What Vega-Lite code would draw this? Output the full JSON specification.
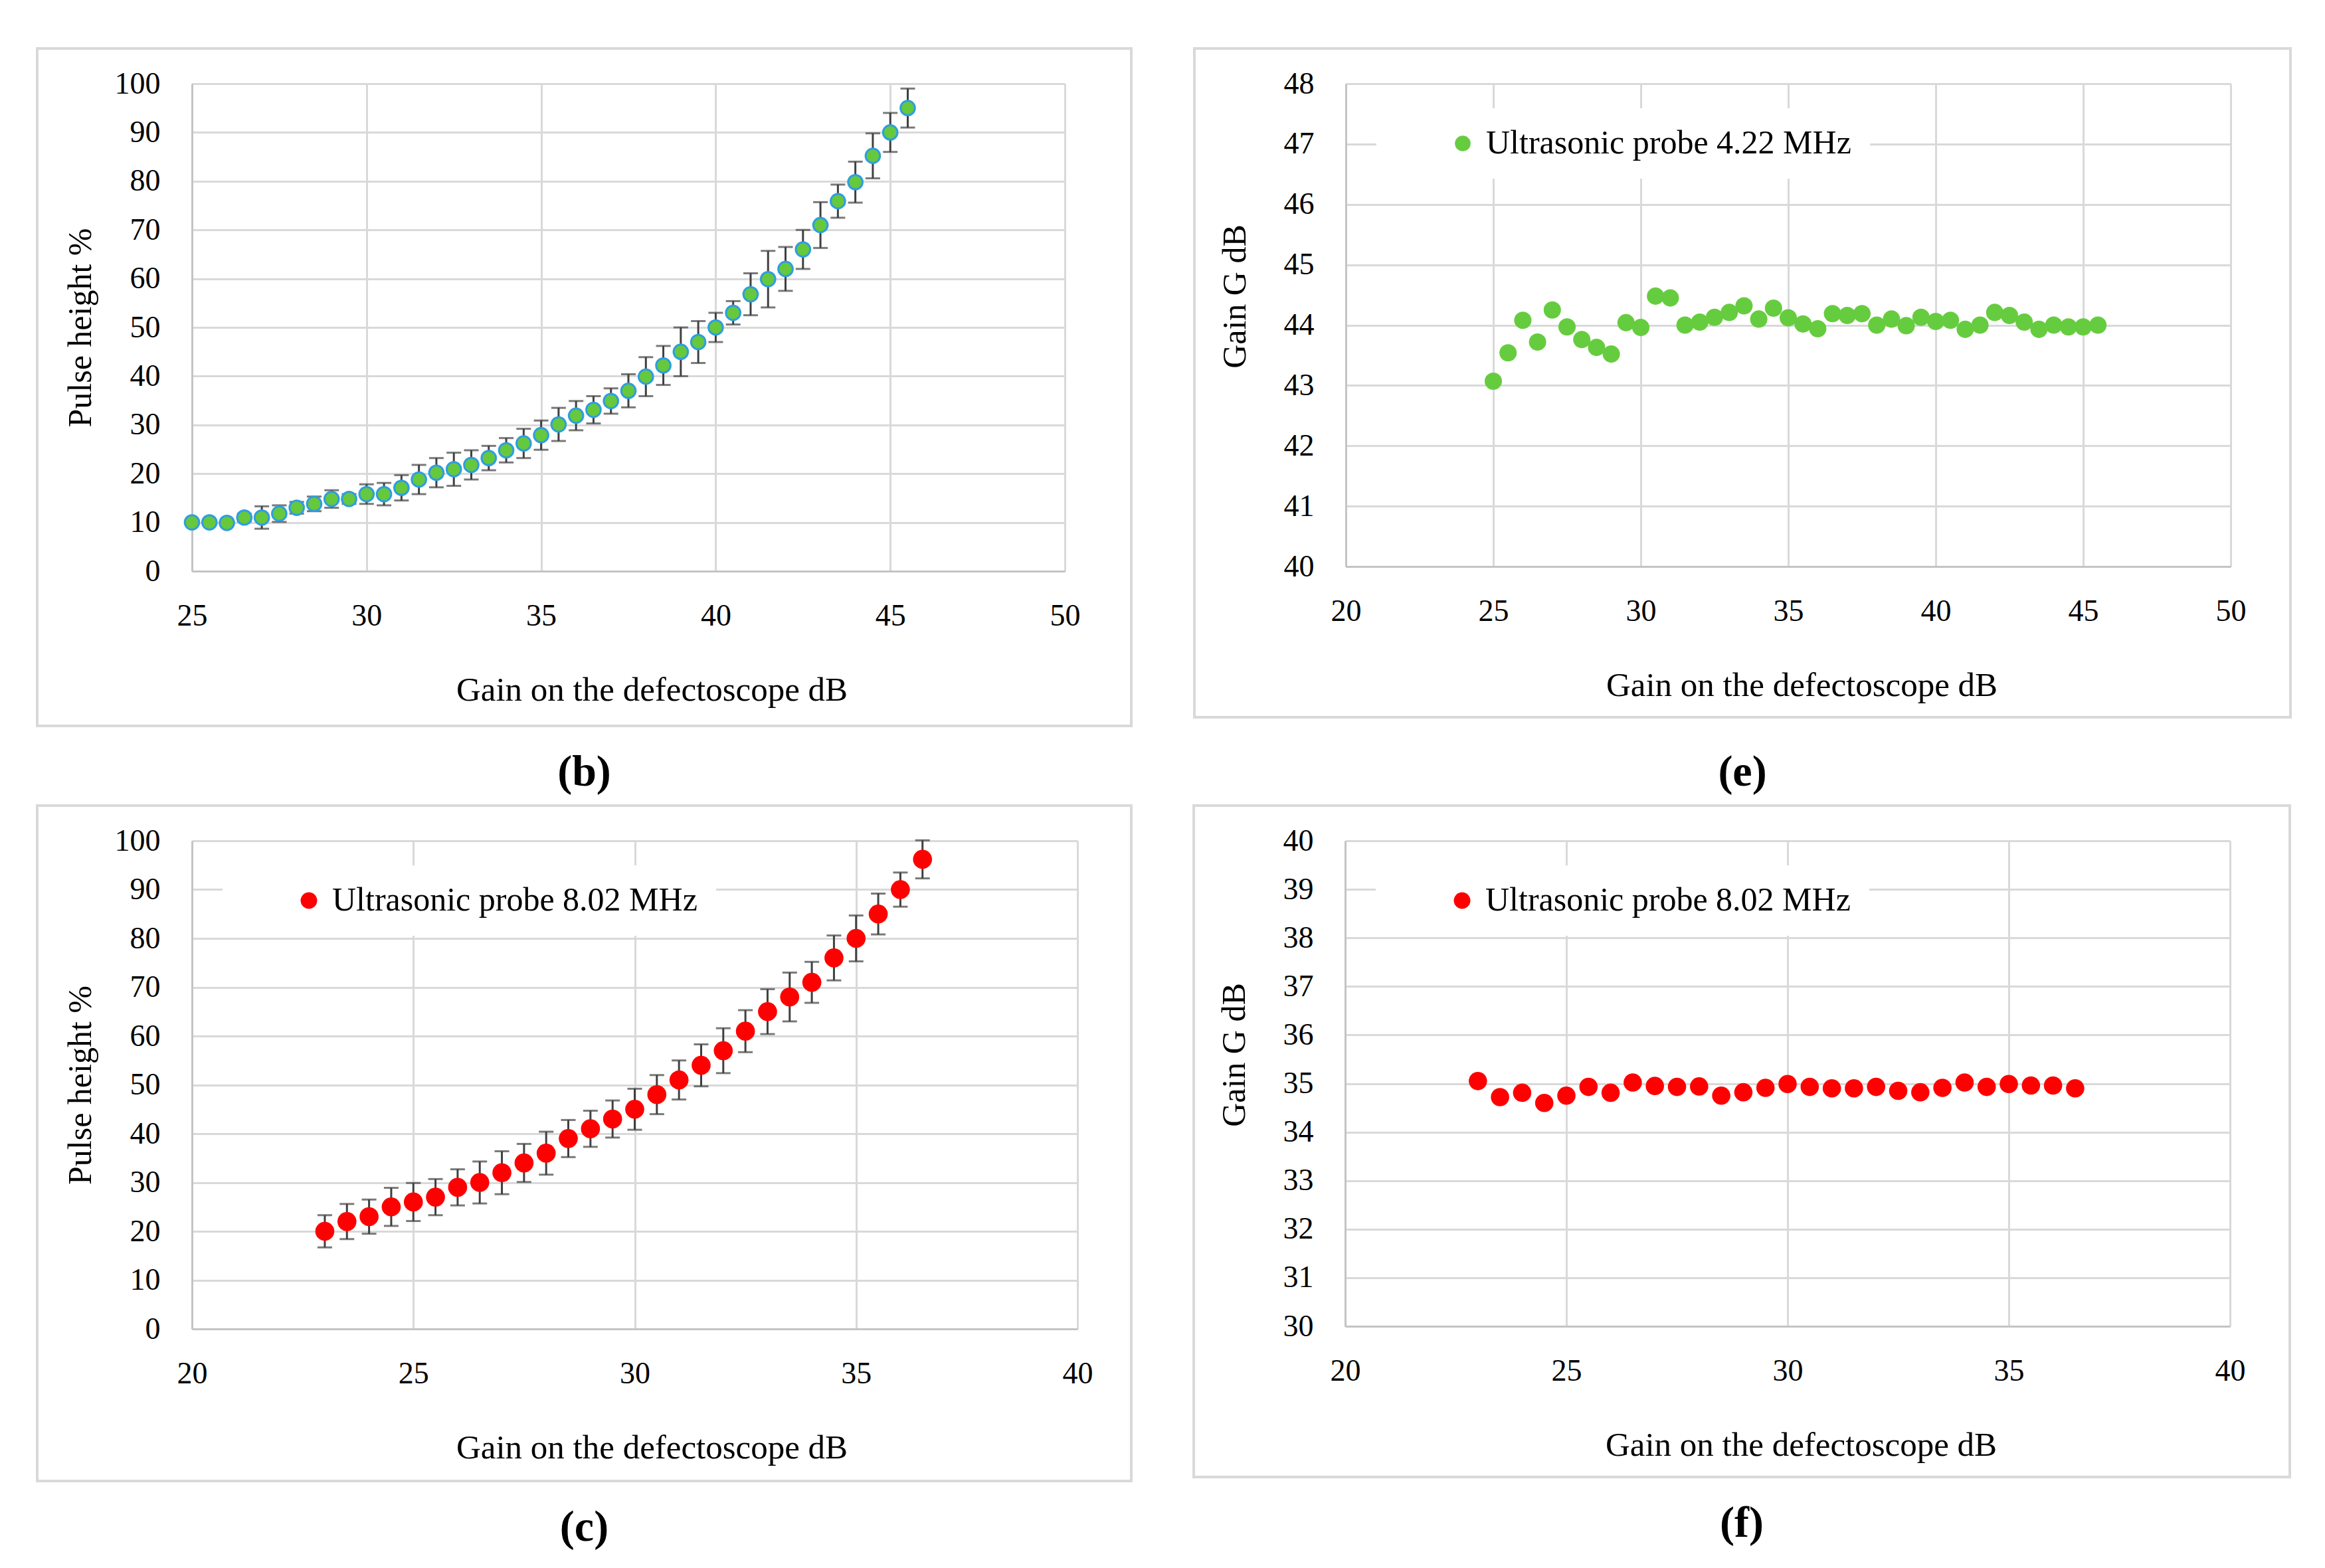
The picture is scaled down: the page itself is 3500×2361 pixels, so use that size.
{
  "$schema": "https://vega.github.io/schema/vega-lite/v6.json",
  "background": "white",
  "padding": {"left": 53, "top": 70, "right": 10, "bottom": 10},
  "datasets": {
    "b": [
      {"gain": 25, "pulse": 10, "err": 0},
      {"gain": 25.5, "pulse": 10, "err": 0},
      {"gain": 26, "pulse": 9.9, "err": 0},
      {"gain": 26.5, "pulse": 11, "err": 0.8},
      {"gain": 27, "pulse": 11, "err": 2.3},
      {"gain": 27.5, "pulse": 11.8, "err": 1.7},
      {"gain": 28, "pulse": 13, "err": 1.2},
      {"gain": 28.5, "pulse": 13.8, "err": 1.5},
      {"gain": 29, "pulse": 14.8, "err": 1.8},
      {"gain": 29.5, "pulse": 14.8, "err": 1.0},
      {"gain": 30, "pulse": 15.8, "err": 2.0},
      {"gain": 30.5, "pulse": 15.8, "err": 2.3},
      {"gain": 31, "pulse": 17.1, "err": 2.6},
      {"gain": 31.5, "pulse": 18.8, "err": 3.0},
      {"gain": 32, "pulse": 20.2, "err": 3.0},
      {"gain": 32.5, "pulse": 20.9, "err": 3.4},
      {"gain": 33, "pulse": 21.8, "err": 3.0},
      {"gain": 33.5, "pulse": 23.2, "err": 2.5},
      {"gain": 34, "pulse": 24.8, "err": 2.5},
      {"gain": 34.5, "pulse": 26.2, "err": 3.0},
      {"gain": 35, "pulse": 27.9, "err": 3.0},
      {"gain": 35.5, "pulse": 30.1, "err": 3.4},
      {"gain": 36, "pulse": 31.9, "err": 3.0},
      {"gain": 36.5, "pulse": 33.1, "err": 2.8},
      {"gain": 37, "pulse": 34.9, "err": 2.6},
      {"gain": 37.5, "pulse": 37, "err": 3.4},
      {"gain": 38, "pulse": 39.9, "err": 4.0},
      {"gain": 38.5, "pulse": 42.2, "err": 4.0},
      {"gain": 39, "pulse": 45, "err": 5.0},
      {"gain": 39.5, "pulse": 47, "err": 4.3},
      {"gain": 40, "pulse": 50, "err": 3.0},
      {"gain": 40.5, "pulse": 53, "err": 2.4},
      {"gain": 41, "pulse": 56.8, "err": 4.3},
      {"gain": 41.5, "pulse": 59.9, "err": 5.8},
      {"gain": 42, "pulse": 62, "err": 4.5},
      {"gain": 42.5, "pulse": 66, "err": 4.0},
      {"gain": 43, "pulse": 71, "err": 4.7},
      {"gain": 43.5, "pulse": 75.9, "err": 3.4},
      {"gain": 44, "pulse": 79.8, "err": 4.2},
      {"gain": 44.5, "pulse": 85.2, "err": 4.6},
      {"gain": 45, "pulse": 90, "err": 4.0},
      {"gain": 45.5, "pulse": 95, "err": 4.0}
    ],
    "e": [
      {"gain": 25, "g": 43.07}, {"gain": 25.5, "g": 43.54}, {"gain": 26, "g": 44.08},
      {"gain": 26.5, "g": 43.72}, {"gain": 27, "g": 44.25}, {"gain": 27.5, "g": 43.97},
      {"gain": 28, "g": 43.76}, {"gain": 28.5, "g": 43.63}, {"gain": 29, "g": 43.52},
      {"gain": 29.5, "g": 44.04}, {"gain": 30, "g": 43.96}, {"gain": 30.5, "g": 44.48},
      {"gain": 31, "g": 44.45}, {"gain": 31.5, "g": 44.0}, {"gain": 32, "g": 44.05},
      {"gain": 32.5, "g": 44.13}, {"gain": 33, "g": 44.21}, {"gain": 33.5, "g": 44.32},
      {"gain": 34, "g": 44.1}, {"gain": 34.5, "g": 44.28}, {"gain": 35, "g": 44.12},
      {"gain": 35.5, "g": 44.02}, {"gain": 36, "g": 43.94}, {"gain": 36.5, "g": 44.19},
      {"gain": 37, "g": 44.16}, {"gain": 37.5, "g": 44.19}, {"gain": 38, "g": 44.0},
      {"gain": 38.5, "g": 44.1}, {"gain": 39, "g": 43.99}, {"gain": 39.5, "g": 44.13},
      {"gain": 40, "g": 44.06}, {"gain": 40.5, "g": 44.08}, {"gain": 41, "g": 43.93},
      {"gain": 41.5, "g": 44.0}, {"gain": 42, "g": 44.21}, {"gain": 42.5, "g": 44.16},
      {"gain": 43, "g": 44.05}, {"gain": 43.5, "g": 43.93}, {"gain": 44, "g": 44.0},
      {"gain": 44.5, "g": 43.97}, {"gain": 45, "g": 43.97}, {"gain": 45.5, "g": 44.0}
    ],
    "c": [
      {"gain": 23, "pulse": 20, "err": 3.3},
      {"gain": 23.5, "pulse": 22, "err": 3.6},
      {"gain": 24, "pulse": 23, "err": 3.5},
      {"gain": 24.5, "pulse": 25, "err": 3.9},
      {"gain": 25, "pulse": 26, "err": 3.9},
      {"gain": 25.5, "pulse": 27, "err": 3.7},
      {"gain": 26, "pulse": 29, "err": 3.7},
      {"gain": 26.5, "pulse": 30, "err": 4.3},
      {"gain": 27, "pulse": 32, "err": 4.4},
      {"gain": 27.5, "pulse": 34, "err": 3.9},
      {"gain": 28, "pulse": 36, "err": 4.4},
      {"gain": 28.5, "pulse": 39, "err": 3.8},
      {"gain": 29, "pulse": 41, "err": 3.7},
      {"gain": 29.5, "pulse": 43, "err": 3.8},
      {"gain": 30, "pulse": 45, "err": 4.2},
      {"gain": 30.5, "pulse": 48, "err": 4.0},
      {"gain": 31, "pulse": 51, "err": 4.0},
      {"gain": 31.5, "pulse": 54, "err": 4.3},
      {"gain": 32, "pulse": 57, "err": 4.6},
      {"gain": 32.5, "pulse": 61, "err": 4.3},
      {"gain": 33, "pulse": 65, "err": 4.6},
      {"gain": 33.5, "pulse": 68, "err": 5.0},
      {"gain": 34, "pulse": 71, "err": 4.2},
      {"gain": 34.5, "pulse": 76, "err": 4.6},
      {"gain": 35, "pulse": 80, "err": 4.7},
      {"gain": 35.5, "pulse": 85, "err": 4.2},
      {"gain": 36, "pulse": 90, "err": 3.5},
      {"gain": 36.5, "pulse": 96.2, "err": 3.9}
    ],
    "f": [
      {"gain": 23, "g": 35.05}, {"gain": 23.5, "g": 34.72}, {"gain": 24, "g": 34.81},
      {"gain": 24.5, "g": 34.6}, {"gain": 25, "g": 34.75}, {"gain": 25.5, "g": 34.93},
      {"gain": 26, "g": 34.81}, {"gain": 26.5, "g": 35.02}, {"gain": 27, "g": 34.95},
      {"gain": 27.5, "g": 34.93}, {"gain": 28, "g": 34.94}, {"gain": 28.5, "g": 34.75},
      {"gain": 29, "g": 34.82}, {"gain": 29.5, "g": 34.91}, {"gain": 30, "g": 34.99},
      {"gain": 30.5, "g": 34.93}, {"gain": 31, "g": 34.9}, {"gain": 31.5, "g": 34.9},
      {"gain": 32, "g": 34.93}, {"gain": 32.5, "g": 34.85}, {"gain": 33, "g": 34.82},
      {"gain": 33.5, "g": 34.91}, {"gain": 34, "g": 35.02}, {"gain": 34.5, "g": 34.93},
      {"gain": 35, "g": 34.99}, {"gain": 35.5, "g": 34.96}, {"gain": 36, "g": 34.96},
      {"gain": 36.5, "g": 34.9}
    ]
  },
  "spacing": 13,
  "resolve": {"scale": {"x": "independent", "y": "independent", "color": "independent"}, "legend": {"color": "independent"}},
  "vconcat": [
    {
      "spacing": 90,
      "resolve": {"scale": {"x": "independent", "y": "independent", "color": "independent"}, "legend": {"color": "independent"}},
      "hconcat": [
        {
          "width": 1314,
          "height": 734,
          "title": {"text": "(b)"},
          "layer": [
            {
              "data": {"values": [{}]},
              "mark": {"type": "rect", "fill": null, "stroke": "#d9d9d9", "strokeWidth": 4, "clip": false},
              "encoding": {
                "x": {"datum": 20.567, "type": "quantitative", "scale": {"domain": [25, 50], "nice": false, "zero": false}, "axis": {"grid": true, "values": [25, 30, 35, 40, 45, 50], "title": "Gain on the defectoscope dB", "titleX": 692}},
                "x2": {"datum": 51.903},
                "y": {"datum": 107.221, "type": "quantitative", "scale": {"domain": [0, 100], "nice": false, "zero": false}, "axis": {"grid": true, "values": [0, 10, 20, 30, 40, 50, 60, 70, 80, 90, 100], "title": "Pulse height %", "titlePadding": 26}},
                "y2": {"datum": -31.744}
              }
            },
            {
              "data": {"name": "b"},
              "mark": {"type": "errorbar", "ticks": {"color": "#404040"}, "rule": {"color": "#404040"}, "size": 22, "thickness": 3},
              "encoding": {
                "x": {"field": "gain", "type": "quantitative", "scale": {"domain": [25, 50], "nice": false, "zero": false}, "axis": {"grid": true, "values": [25, 30, 35, 40, 45, 50], "title": "Gain on the defectoscope dB", "titleX": 692}},
                "y": {"field": "pulse", "type": "quantitative", "scale": {"domain": [0, 100], "nice": false, "zero": false}, "axis": {"grid": true, "values": [0, 10, 20, 30, 40, 50, 60, 70, 80, 90, 100], "title": "Pulse height %", "titlePadding": 26}},
                "yError": {"field": "err"}
              }
            },
            {
              "data": {"name": "b"},
              "mark": {"type": "circle", "size": 470, "fill": "#66c83c", "stroke": "#2e9ee0", "strokeWidth": 3, "opacity": 1},
              "encoding": {
                "x": {"field": "gain", "type": "quantitative", "scale": {"domain": [25, 50], "nice": false, "zero": false}, "axis": {"grid": true, "values": [25, 30, 35, 40, 45, 50], "title": "Gain on the defectoscope dB", "titleX": 692}},
                "y": {"field": "pulse", "type": "quantitative", "scale": {"domain": [0, 100], "nice": false, "zero": false}, "axis": {"grid": true, "values": [0, 10, 20, 30, 40, 50, 60, 70, 80, 90, 100], "title": "Pulse height %", "titlePadding": 26}}
              }
            }
          ]
        },
        {
          "width": 1332,
          "height": 727,
          "title": {"text": "(e)", "offset": 49},
          "layer": [
            {
              "data": {"values": [{}]},
              "mark": {"type": "rect", "fill": null, "stroke": "#d9d9d9", "strokeWidth": 4, "clip": false},
              "encoding": {
                "x": {"datum": 14.865, "type": "quantitative", "scale": {"domain": [20, 50], "nice": false, "zero": false}, "axis": {"grid": true, "values": [20, 25, 30, 35, 40, 45, 50], "title": "Gain on the defectoscope dB", "titleX": 686}},
                "x2": {"datum": 52.027},
                "y": {"datum": 48.583, "type": "quantitative", "scale": {"domain": [40, 48], "nice": false, "zero": false}, "axis": {"grid": true, "values": [40, 41, 42, 43, 44, 45, 46, 47, 48], "title": "Gain G dB", "titlePadding": 48, "titleY": 320}},
                "y2": {"datum": 37.502}
              }
            },
            {
              "data": {"name": "e"},
              "mark": {"type": "circle", "size": 680, "opacity": 1},
              "encoding": {
                "x": {"field": "gain", "type": "quantitative", "scale": {"domain": [20, 50], "nice": false, "zero": false}, "axis": {"grid": true, "values": [20, 25, 30, 35, 40, 45, 50], "title": "Gain on the defectoscope dB", "titleX": 686}},
                "y": {"field": "g", "type": "quantitative", "scale": {"domain": [40, 48], "nice": false, "zero": false}, "axis": {"grid": true, "values": [40, 41, 42, 43, 44, 45, 46, 47, 48], "title": "Gain G dB", "titlePadding": 48, "titleY": 320}},
                "color": {
                  "datum": "Ultrasonic probe 4.22 MHz",
                  "type": "nominal",
                  "scale": {"range": ["#66cc3f"]},
                  "legend": {"title": null, "orient": "none", "legendX": 46, "legendY": 37, "fillColor": "white", "padding": 28, "symbolSize": 560, "symbolType": "circle", "symbolOffset": 77, "labelOffset": 10, "labelLimit": 0}
                }
              }
            }
          ]
        }
      ]
    },
    {
      "spacing": 90,
      "resolve": {"scale": {"x": "independent", "y": "independent", "color": "independent"}, "legend": {"color": "independent"}},
      "hconcat": [
        {
          "width": 1333,
          "height": 735,
          "title": {"text": "(c)"},
          "layer": [
            {
              "data": {"values": [{}]},
              "mark": {"type": "rect", "fill": null, "stroke": "#d9d9d9", "strokeWidth": 4, "clip": false},
              "encoding": {
                "x": {"datum": 16.504, "type": "quantitative", "scale": {"domain": [20, 40], "nice": false, "zero": false}, "axis": {"grid": true, "values": [20, 25, 30, 35, 40], "title": "Gain on the defectoscope dB", "titleX": 692}},
                "x2": {"datum": 41.215},
                "y": {"datum": 107.211, "type": "quantitative", "scale": {"domain": [0, 100], "nice": false, "zero": false}, "axis": {"grid": true, "values": [0, 10, 20, 30, 40, 50, 60, 70, 80, 90, 100], "title": "Pulse height %", "titlePadding": 26}},
                "y2": {"datum": -31.156}
              }
            },
            {
              "data": {"name": "c"},
              "mark": {"type": "errorbar", "ticks": {"color": "#404040"}, "rule": {"color": "#404040"}, "size": 22, "thickness": 3},
              "encoding": {
                "x": {"field": "gain", "type": "quantitative", "scale": {"domain": [20, 40], "nice": false, "zero": false}, "axis": {"grid": true, "values": [20, 25, 30, 35, 40], "title": "Gain on the defectoscope dB", "titleX": 692}},
                "y": {"field": "pulse", "type": "quantitative", "scale": {"domain": [0, 100], "nice": false, "zero": false}, "axis": {"grid": true, "values": [0, 10, 20, 30, 40, 50, 60, 70, 80, 90, 100], "title": "Pulse height %", "titlePadding": 26}},
                "yError": {"field": "err"}
              }
            },
            {
              "data": {"name": "c"},
              "mark": {"type": "circle", "size": 820, "opacity": 1},
              "encoding": {
                "x": {"field": "gain", "type": "quantitative", "scale": {"domain": [20, 40], "nice": false, "zero": false}, "axis": {"grid": true, "values": [20, 25, 30, 35, 40], "title": "Gain on the defectoscope dB", "titleX": 692}},
                "y": {"field": "pulse", "type": "quantitative", "scale": {"domain": [0, 100], "nice": false, "zero": false}, "axis": {"grid": true, "values": [0, 10, 20, 30, 40, 50, 60, 70, 80, 90, 100], "title": "Pulse height %", "titlePadding": 26}},
                "color": {
                  "datum": "Ultrasonic probe 8.02 MHz",
                  "type": "nominal",
                  "scale": {"range": ["#ff0000"]},
                  "legend": {"title": null, "orient": "none", "legendX": 46, "legendY": 37, "fillColor": "white", "padding": 28, "symbolSize": 620, "symbolType": "circle", "symbolOffset": 77, "labelOffset": 10, "labelLimit": 0}
                }
              }
            }
          ]
        },
        {
          "width": 1332,
          "height": 731,
          "title": {"text": "(f)"},
          "layer": [
            {
              "data": {"values": [{}]},
              "mark": {"type": "rect", "fill": null, "stroke": "#d9d9d9", "strokeWidth": 4, "clip": false},
              "encoding": {
                "x": {"datum": 16.577, "type": "quantitative", "scale": {"domain": [20, 40], "nice": false, "zero": false}, "axis": {"grid": true, "values": [20, 25, 30, 35, 40], "title": "Gain on the defectoscope dB", "titleX": 686}},
                "x2": {"datum": 41.351},
                "y": {"datum": 40.725, "type": "quantitative", "scale": {"domain": [30, 40], "nice": false, "zero": false}, "axis": {"grid": true, "values": [30, 31, 32, 33, 34, 35, 36, 37, 38, 39, 40], "title": "Gain G dB", "titlePadding": 48, "titleY": 322}},
                "y2": {"datum": 26.895}
              }
            },
            {
              "data": {"name": "f"},
              "mark": {"type": "circle", "size": 760, "opacity": 1},
              "encoding": {
                "x": {"field": "gain", "type": "quantitative", "scale": {"domain": [20, 40], "nice": false, "zero": false}, "axis": {"grid": true, "values": [20, 25, 30, 35, 40], "title": "Gain on the defectoscope dB", "titleX": 686}},
                "y": {"field": "g", "type": "quantitative", "scale": {"domain": [30, 40], "nice": false, "zero": false}, "axis": {"grid": true, "values": [30, 31, 32, 33, 34, 35, 36, 37, 38, 39, 40], "title": "Gain G dB", "titlePadding": 48, "titleY": 322}},
                "color": {
                  "datum": "Ultrasonic probe 8.02 MHz",
                  "type": "nominal",
                  "scale": {"range": ["#ff0000"]},
                  "legend": {"title": null, "orient": "none", "legendX": 46, "legendY": 37, "fillColor": "white", "padding": 28, "symbolSize": 620, "symbolType": "circle", "symbolOffset": 77, "labelOffset": 10, "labelLimit": 0}
                }
              }
            }
          ]
        }
      ]
    }
  ],
  "config": {
    "view": {"stroke": null},
    "font": "Liberation Serif",
    "axis": {
      "grid": true,
      "gridColor": "#d9d9d9",
      "gridWidth": 3,
      "gridOpacity": 1,
      "domainColor": "#c4c4c4",
      "domainWidth": 3,
      "ticks": false,
      "labelFont": "Liberation Serif",
      "labelFontSize": 46,
      "labelColor": "#000000",
      "titleFont": "Liberation Serif",
      "titleFontWeight": "normal",
      "titleColor": "#000000"
    },
    "axisX": {"labelPadding": 45, "titleFontSize": 51, "titlePadding": 64, "labelFlush": false},
    "axisY": {"labelPadding": 48, "titleFontSize": 50, "titlePadding": 30},
    "legend": {"labelFont": "Liberation Serif", "labelFontSize": 50, "labelColor": "#000000", "symbolStrokeWidth": 0},
    "title": {"font": "Liberation Serif", "fontSize": 66, "fontWeight": "bold", "color": "#000000", "orient": "bottom", "anchor": "middle", "frame": "bounds", "offset": 36}
  }
}
